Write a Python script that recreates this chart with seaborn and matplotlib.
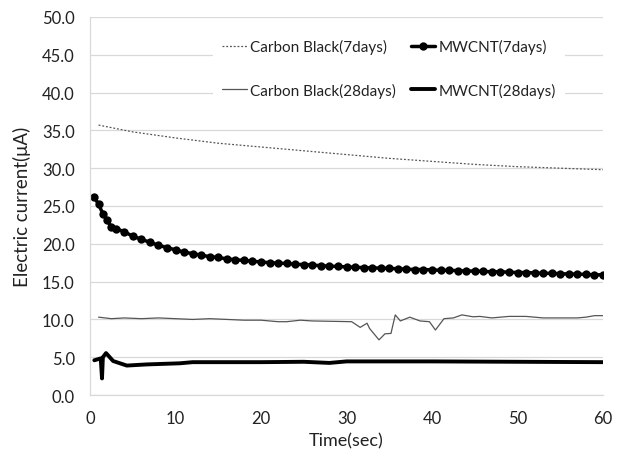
import matplotlib
matplotlib.use("Agg")
import matplotlib.pyplot as plt
import seaborn as sns
import numpy as np

# ---- data ----
cb7_t = [1, 5, 10, 15, 20, 25, 30, 35, 40, 45, 50, 55, 60]
cb7_v = [35.7, 34.8, 34.0, 33.3, 32.8, 32.3, 31.8, 31.3, 30.9, 30.5, 30.2, 30.0, 29.8]

mw7_t = [0.5, 1, 1.5, 2, 2.5] + list(range(3, 61))
mw7_v = [26.2, 25.2, 24.0, 23.1, 22.2,
         22.0, 21.6, 21.0, 20.6, 20.2, 19.8, 19.5, 19.2, 18.9, 18.7,
         18.5, 18.3, 18.2, 18.0, 17.9, 17.8, 17.7, 17.6, 17.5, 17.45,
         17.4, 17.3, 17.25, 17.2, 17.1, 17.05, 17.0, 16.95, 16.9, 16.85,
         16.8, 16.8, 16.75, 16.7, 16.65, 16.6, 16.6, 16.55, 16.5, 16.5,
         16.45, 16.4, 16.4, 16.35, 16.3, 16.3, 16.25, 16.2, 16.2, 16.15,
         16.1, 16.1, 16.05, 16.0, 16.0, 15.95, 15.9, 15.9]

cb28_t = [1, 2.5, 4, 6, 8, 10, 12, 14, 16, 18, 20, 22, 23, 24.6, 26, 28.4,
          30.6, 31.6, 32.4, 32.7, 33.8, 34.5, 35.2, 35.7, 36.3, 37.4, 38.6,
          39.7, 40.4, 41.4, 42.5, 43.5, 44.8, 45.6, 47, 49, 51, 53, 55, 57,
          58, 59, 60]
cb28_v = [10.3, 10.1, 10.2, 10.1, 10.2, 10.1, 10.0, 10.1, 10.0, 9.9, 9.9, 9.7,
          9.7, 9.9, 9.8, 9.75, 9.7, 8.95, 9.5, 8.8, 7.3, 8.1, 8.15, 10.6, 9.8,
          10.3, 9.8, 9.7, 8.6, 10.1, 10.2, 10.6, 10.35, 10.4, 10.2, 10.4,
          10.4, 10.2, 10.2, 10.2, 10.3, 10.5, 10.5]

mw28_t = [0.5, 1.25, 1.4, 1.5, 1.87, 2.7, 4.3, 6.6, 10.5, 12, 20, 25, 28, 30,
          35, 40, 50, 60]
mw28_v = [4.6, 4.85, 2.2, 5.0, 5.55, 4.5, 3.9, 4.05, 4.2, 4.35, 4.35, 4.4,
          4.25, 4.45, 4.45, 4.45, 4.4, 4.35]

x_ticks = [0, 10, 20, 30, 40, 50, 60]
y_ticks = [0, 5, 10, 15, 20, 25, 30, 35, 40, 45, 50]

sns.set_style("white")
plt.rcParams['font.family'] = ['Lato', 'DejaVu Sans']

fig = plt.figure(figsize=(6.21, 4.6), dpi=100)
ax = fig.add_axes([0.145, 0.139, 0.826, 0.822])

sns.lineplot(x=cb7_t, y=cb7_v, ax=ax, color="#555555", lw=0.9,
             linestyle=(0, (1.5, 1.5)), label="Carbon Black(7days)", sort=False)
sns.lineplot(x=cb28_t, y=cb28_v, ax=ax, color="#555555", lw=0.9,
             label="Carbon Black(28days)", sort=False)
sns.lineplot(x=mw7_t, y=mw7_v, ax=ax, color="black", lw=2.5, marker="o",
             markersize=6, markeredgewidth=0, label="MWCNT(7days)", sort=False)
sns.lineplot(x=mw28_t, y=mw28_v, ax=ax, color="black", lw=2.8,
             label="MWCNT(28days)", sort=False)

ax.set_xlim(0, 60)
ax.set_ylim(0, 50)
ax.set_xticks(x_ticks)
ax.set_yticks(y_ticks)
ax.set_yticklabels([f"{v:.1f}" for v in y_ticks])
ax.grid(axis='y', color="#d9d9d9", lw=0.9)
ax.set_axisbelow(True)
for s in ['top', 'right']:
    ax.spines[s].set_visible(False)
for s in ['left', 'bottom']:
    ax.spines[s].set_color("#d9d9d9")
    ax.spines[s].set_linewidth(0.9)
ax.tick_params(axis='both', length=0, labelsize=12, colors="#222222", pad=11)
ax.set_xlabel("Time(sec)", fontsize=13, color="#222222", labelpad=4)
ax.set_ylabel("Electric current(μA)", fontsize=13.5, color="#222222", labelpad=8)

leg = ax.legend(ncol=2, loc='upper left', bbox_to_anchor=(0.225, 0.985),
                frameon=True, facecolor='white', edgecolor='none', framealpha=1,
                labelspacing=1.85, columnspacing=1.0, handlelength=1.6,
                handletextpad=0.2, fontsize=11, borderpad=0.6)
for t in leg.get_texts():
    t.set_color("#222222")

fig.savefig("out.png", dpi=100)
